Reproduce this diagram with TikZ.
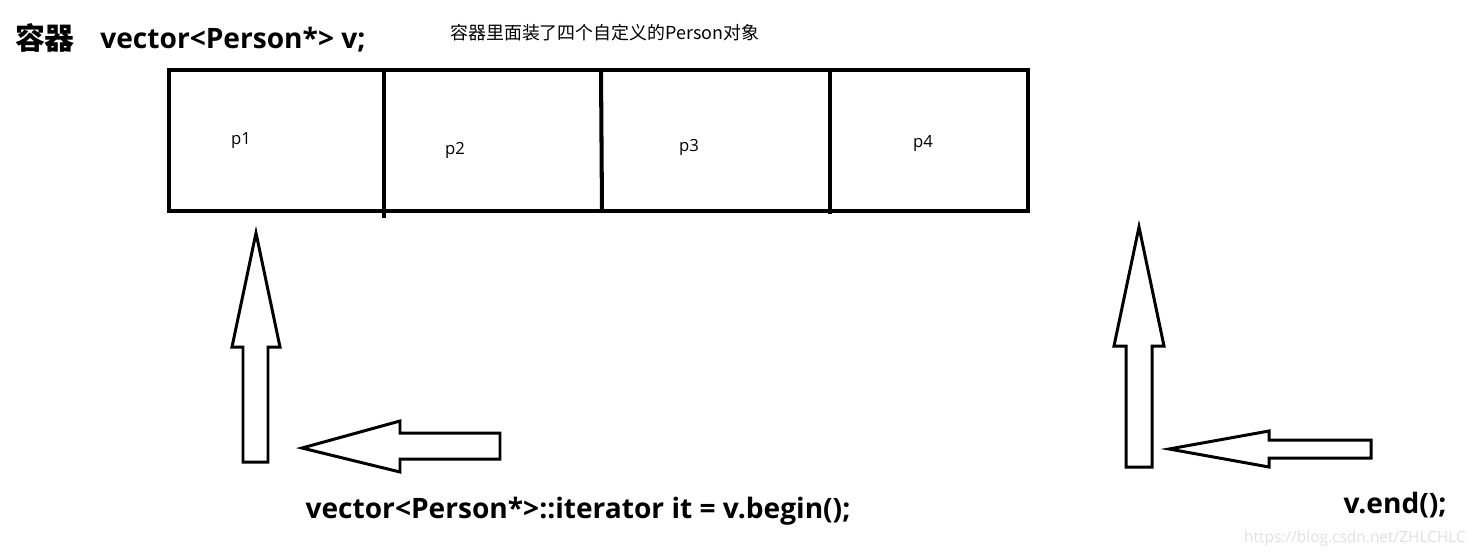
\documentclass[tikz,border=0pt]{standalone}
\usepackage{fontspec}
\setmainfont{Open Sans}
\newfontfamily\cjk{Noto Sans CJK SC}
\begin{document}
\begin{tikzpicture}[x=0.02cm,y=-0.02cm,
    label/.style={inner sep=0pt},
    code/.style={label, font=\bfseries\fontsize{16}{19}\selectfont},
    cell/.style={label, font=\fontsize{9.5}{11}\selectfont},
    box/.style={draw, line width=2.3pt},
    blockarrow/.style={draw, line width=1.7pt, line join=miter}]

        \useasboundingbox (0,0) rectangle (1474,555);

        % titles
        \node[label, font=\cjk\bfseries\fontsize{17}{20}\selectfont] (title) at (45,38) {容器};
        \node[code, anchor=west] (decl) at (100,40) {vector<Person*> v;};
        \node[label, anchor=west, font=\cjk\fontsize{10.2}{12}\selectfont] (note) at (450,33) {容器里面装了四个自定义的Person对象};

        % the vector
        \coordinate (tl) at (169,70);
        \coordinate (br) at (1028,211);
        \draw[box] (tl) rectangle (br);
        \draw[box] (384,70) -- (384,218);
        \draw[box] (601,70) -- (602,211);
        \draw[box] (830,72) -- (830,214);

        \begin{scope}[every node/.style={cell}]
          \node (p1) at (241,141) {p1};
          \node (p2) at (455,150) {p2};
          \node (p3) at (689,147) {p3};
          \node (p4) at (923,144) {p4};
        \end{scope}

        % begin()
        \draw[blockarrow] (256,233) -- (280,347) -- (268,347) -- (268,462)
          -- (243,462) -- (243,347) -- (232,347) -- cycle;
        \draw[blockarrow] (302,448) -- (400,421) -- (400,433) -- (500,433)
          -- (500,459) -- (400,459) -- (400,472) -- cycle;
        \node[code] (begin) at (578,511) {vector<Person*>::iterator it = v.begin();};

        % end()
        \draw[blockarrow] (1139,227) -- (1164,346) -- (1152,346) -- (1152,467)
          -- (1126,467) -- (1126,346) -- (1114,346) -- cycle;
        \draw[blockarrow] (1169,449) -- (1269,431) -- (1269,440) -- (1371,440)
          -- (1371,458) -- (1269,458) -- (1269,467) -- cycle;
        \node[code] (end) at (1395,505) {v.end();};

        \node[label, font=\fontsize{8.8}{10}\selectfont, text=black!12] (mark) at (1355,538) {https://blog.csdn.net/ZHLCHLC};

      \end{tikzpicture}
\end{document}
